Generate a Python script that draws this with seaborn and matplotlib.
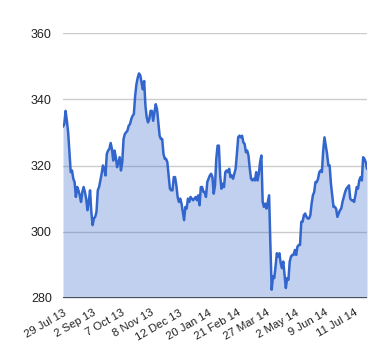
import numpy as np
import pandas as pd
import matplotlib
matplotlib.use("Agg")
import matplotlib.pyplot as plt
import seaborn as sns

seg_a = [331.7, 332.5, 336.5, 333.5, 330, 324, 318, 318.5, 316, 315, 310.5,
         313.5, 312.5, 311, 309, 312, 313.5, 312, 310, 306.5, 309, 312.5, 306, 302, 304,
         304.5, 306, 312.5, 313.5, 315.5, 317.5, 320, 319, 317, 323.5, 324.5, 325,
         326.8, 325, 321.5, 324.5, 322.5, 319.5, 321, 322.5, 318.5, 321, 328, 329.5,
         330, 330.5]
seg_b = [332, 332.5, 334, 335, 335.5, 341, 344.5, 346.5, 347.8, 347.2, 345, 343, 345.5, 338,
         334.5, 333, 334, 336.5, 336.5, 333.5, 336, 338.5, 337, 333, 329, 328, 328, 323.5, 322,
         322, 321, 317, 313, 312.5, 312.5, 316.5, 316.5, 314, 310.5, 309, 310, 308.5, 306, 303.5,
         307.5, 307, 310, 309, 310.5, 310, 309.5, 310, 310.5, 309.5, 311, 308, 313.5, 313.5, 312,
         312, 310.5, 315, 316, 317, 317.5, 316.5, 311.5, 314, 322, 326, 326, 317, 313, 314.5,
         313.5, 318, 318.5, 318, 319, 316.5, 317, 316, 317.5, 319, 323.5, 328.5, 329, 328.5, 329,
         327, 326.5, 324, 324.5, 323, 319, 316]
seg_c = [315.5, 316, 315.5, 318, 315.5, 317.5, 321, 323, 309, 307.5, 308.5, 307, 309, 311, 296,
         282.5, 286.5, 286, 289.5, 293.5, 292.5, 293.5, 290.5, 289, 291, 287, 283, 286, 285.5,
         291, 292.5, 293, 293, 294.5, 293, 295.5, 296, 296, 303, 303, 305, 305.5, 304.5, 304, 304,
         305, 308.5, 311, 312, 315, 315, 316, 318, 318.5, 318, 324.5, 328.5, 326, 323.5, 320, 320,
         314.5, 311, 307.5, 307.5, 307, 304.5, 305.5, 306.5, 307, 309, 310.5, 312, 313, 313.5, 314,
         310, 309.5, 309.5, 309, 311, 313.5, 313, 315.5, 316.5, 315.5, 322.5, 322, 321, 319]
values = seg_a + seg_b + seg_c

tick_labels = ["29 Jul 13", "2 Sep 13", "7 Oct 13", "8 Nov 13", "12 Dec 13", "20 Jan 14",
               "21 Feb 14", "27 Mar 14", "2 May 14", "9 Jun 14", "11 Jul 14"]
y_ticks = [280, 300, 320, 340, 360]

df = pd.DataFrame({"i": np.arange(len(values)), "v": values})
n = len(values)

sns.set_theme(style="white")
plt.rcParams["font.family"] = ["Liberation Sans", "DejaVu Sans"]

fig = plt.figure(figsize=(3.8, 3.6), dpi=100)
ax = fig.add_axes([63 / 380, 1 - 298 / 360, 304 / 380, 265 / 360])

color = "#3366CC"
ax.fill_between(df["i"], df["v"], 280, color=color, alpha=0.3, linewidth=0, zorder=1)
for y in y_ticks[1:]:
    ax.axhline(y, color="#cccccc", linewidth=1, zorder=0.5)
sns.lineplot(data=df, x="i", y="v", ax=ax, color=color, linewidth=1.8, zorder=3)
ax.axhline(280, color="#333333", linewidth=1.2, zorder=4)

ax.set_xlim(0, n - 1)
ax.set_ylim(280, 360)
ax.set_yticks(y_ticks)
ax.set_yticklabels([str(t) for t in y_ticks], fontsize=9, color="#222222")
step = (n - 1) * (290 / 303) / 10
ax.set_xticks([k * step for k in range(len(tick_labels))])
ax.set_xticklabels(tick_labels, rotation=30, ha="right", rotation_mode="anchor",
                   fontsize=8.2, color="#222222")
ax.tick_params(axis="both", length=0, pad=8)
ax.tick_params(axis="x", pad=7)
ax.set_xlabel("")
ax.set_ylabel("")
for s in ax.spines.values():
    s.set_visible(False)

fig.savefig("out.png", dpi=100)
